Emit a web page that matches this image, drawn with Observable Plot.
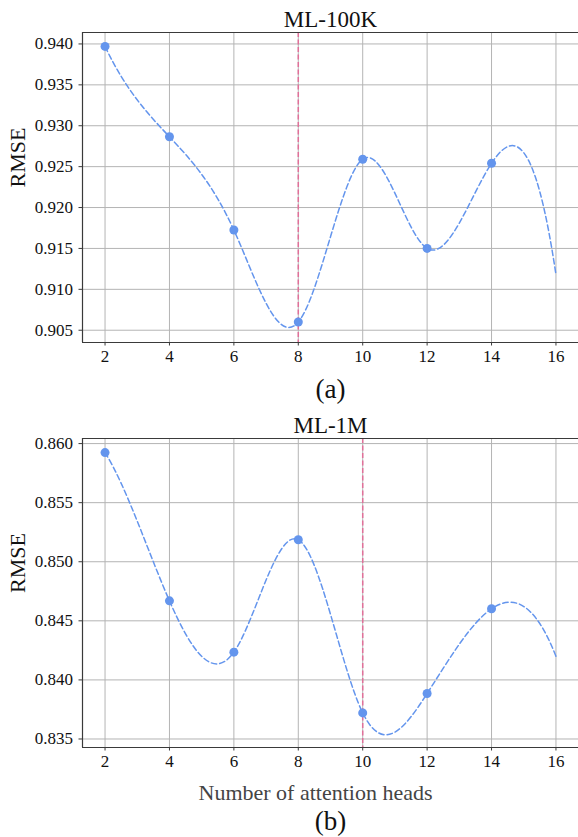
<!DOCTYPE html>
<html>
<head>
<meta charset="utf-8">
<script src="https://cdn.jsdelivr.net/npm/d3@7"></script>
<script src="https://cdn.jsdelivr.net/npm/@observablehq/plot@0.6"></script>
<style>
  html, body { margin: 0; padding: 0; background: #fff; }
  #chart { width: 578px; }
  #chart svg { display: block; }
</style>
</head>
<body>
<div id="chart"></div>
<script>
// ---- data ----
const heads = [2, 4, 6, 8, 10, 12, 14];
const rmse100k = [0.9397, 0.92865, 0.91725, 0.9060, 0.92591, 0.9150, 0.92541];
const rmse1m = [0.85924, 0.84669, 0.84235, 0.85186, 0.83721, 0.83885, 0.84602];
const curveEndHead = 16;
const curveEnd100k = 0.9118;
const curveEnd1m = 0.8420;
const bestHead100k = 8;
const bestHead1m = 10;
const xTicks = [2, 4, 6, 8, 10, 12, 14, 16];
const yTicks100k = [0.905, 0.910, 0.915, 0.920, 0.925, 0.930, 0.935, 0.940];
const yTicks1m = [0.835, 0.840, 0.845, 0.850, 0.855, 0.860];
const titles = ["ML-100K", "ML-1M"];
const captions = ["(a)", "(b)"];
const xLabel = "Number of attention heads";
const yLabel = "RMSE";

const FONT = "'Liberation Serif', 'Times New Roman', serif";
const BLUE = "#6495ED";
const PINK = "#e2709a";
const GRID = "#b4b4b4";
const SPINE = "#3a3a3a";

// cubic interpolating spline with "not-a-knot" end conditions, as a D3-style curve factory
function curveNotAKnot(context) {
  let xs = [], ys = [];
  function solve(A, b) {
    const n = b.length;
    for (let i = 0; i < n; i++) {
      let p = i;
      for (let r = i + 1; r < n; r++) if (Math.abs(A[r][i]) > Math.abs(A[p][i])) p = r;
      [A[i], A[p]] = [A[p], A[i]]; [b[i], b[p]] = [b[p], b[i]];
      for (let r = i + 1; r < n; r++) {
        const f = A[r][i] / A[i][i];
        for (let c = i; c < n; c++) A[r][c] -= f * A[i][c];
        b[r] -= f * b[i];
      }
    }
    const m = new Array(n).fill(0);
    for (let i = n - 1; i >= 0; i--) {
      let s = b[i];
      for (let c = i + 1; c < n; c++) s -= A[i][c] * m[c];
      m[i] = s / A[i][i];
    }
    return m;
  }
  return {
    areaStart() {}, areaEnd() {},
    lineStart() { xs = []; ys = []; },
    point(x, y) { xs.push(+x); ys.push(+y); },
    lineEnd() {
      const n = xs.length;
      if (n === 0) return;
      context.moveTo(xs[0], ys[0]);
      if (n < 4) { for (let i = 1; i < n; i++) context.lineTo(xs[i], ys[i]); return; }
      const h = [];
      for (let i = 0; i < n - 1; i++) h.push(xs[i + 1] - xs[i]);
      const A = Array.from({length: n}, () => new Array(n).fill(0));
      const b = new Array(n).fill(0);
      A[0][0] = -h[1]; A[0][1] = h[0] + h[1]; A[0][2] = -h[0];
      for (let i = 1; i < n - 1; i++) {
        A[i][i - 1] = h[i - 1]; A[i][i] = 2 * (h[i - 1] + h[i]); A[i][i + 1] = h[i];
        b[i] = 6 * ((ys[i + 1] - ys[i]) / h[i] - (ys[i] - ys[i - 1]) / h[i - 1]);
      }
      A[n - 1][n - 3] = -h[n - 2]; A[n - 1][n - 2] = h[n - 3] + h[n - 2]; A[n - 1][n - 1] = -h[n - 3];
      const M = solve(A, b);
      for (let i = 0; i < n - 1; i++) {
        const hi = h[i], s = (ys[i + 1] - ys[i]) / hi;
        const d0 = s - hi * (2 * M[i] + M[i + 1]) / 6;
        const d1 = s + hi * (M[i] + 2 * M[i + 1]) / 6;
        context.bezierCurveTo(xs[i] + hi / 3, ys[i] + d0 * hi / 3, xs[i + 1] - hi / 3, ys[i + 1] - d1 * hi / 3, xs[i + 1], ys[i + 1]);
      }
    }
  };
}

function panel({values, curveEnd, best, yTicks, yDomain, title, caption, height, marginTop, marginBottom, showXLabel}) {
  const pts = heads.map((h, i) => ({h, v: values[i]}));
  const curvePts = [...pts, {h: curveEndHead, v: curveEnd}];
  const xDomain = [1.3, 16.7];
  const marks = [
    Plot.gridX(xTicks, {stroke: GRID, strokeOpacity: 1, strokeWidth: 1}),
    Plot.gridY(yTicks, {stroke: GRID, strokeOpacity: 1, strokeWidth: 1}),
    Plot.ruleX([best], {stroke: PINK, strokeWidth: 1.5, strokeDasharray: "5,2.5"}),
    Plot.line(curvePts, {x: "h", y: "v", curve: curveNotAKnot, stroke: BLUE, strokeWidth: 1.5, strokeDasharray: "5.5,3"}),
    Plot.dot(pts, {x: "h", y: "v", r: 4.5, fill: BLUE, stroke: "none"}),
    Plot.ruleY([yDomain[0]], {stroke: SPINE, strokeWidth: 1.2}),
    Plot.ruleY([yDomain[1]], {stroke: SPINE, strokeWidth: 1.2}),
    Plot.ruleX([xDomain[0]], {stroke: SPINE, strokeWidth: 1.2}),
    Plot.axisX(xTicks, {tickSize: 3.5, tickPadding: 4, fontSize: 17, stroke: SPINE, fill: "#111", tickFormat: d3.format("d"), label: null}),
    Plot.axisY(yTicks, {tickSize: 3.5, tickPadding: 6, fontSize: 17, stroke: SPINE, fill: "#111", tickFormat: d3.format(".3f"), label: null}),
    Plot.text([title], {frameAnchor: "top", dy: -6, lineAnchor: "bottom", fontSize: 23, fill: "#111"}),
    Plot.text([yLabel], {frameAnchor: "left", dx: -64.5, rotate: -90, fontSize: 22, fill: "#111"}),
  ];
  if (showXLabel) {
    marks.push(Plot.text([xLabel], {frameAnchor: "bottom", dx: -15, dy: 45, lineAnchor: "middle", fontSize: 22, fill: "#444"}));
    marks.push(Plot.text([caption], {frameAnchor: "bottom", dy: 74, lineAnchor: "middle", fontSize: 27, fill: "#111"}));
  } else {
    marks.push(Plot.text([caption], {frameAnchor: "bottom", dy: 47, lineAnchor: "middle", fontSize: 27, fill: "#111"}));
  }
  return Plot.plot({
    width: 578,
    height,
    marginLeft: 82,
    marginRight: 0,
    marginTop,
    marginBottom,
    style: {fontFamily: FONT, background: "white", overflow: "visible"},
    x: {domain: xDomain},
    y: {domain: yDomain},
    marks
  });
}

const chart = document.getElementById("chart");
chart.appendChild(panel({
  values: rmse100k, curveEnd: curveEnd100k, best: bestHead100k,
  yTicks: yTicks100k, yDomain: [0.9035, 0.9414],
  title: titles[0], caption: captions[0],
  height: 410, marginTop: 32, marginBottom: 68, showXLabel: false
}));
chart.appendChild(panel({
  values: rmse1m, curveEnd: curveEnd1m, best: bestHead1m,
  yTicks: yTicks1m, yDomain: [0.83428, 0.86043],
  title: titles[1], caption: captions[1],
  height: 427, marginTop: 28, marginBottom: 90, showXLabel: true
}));
</script>
</body>
</html>
